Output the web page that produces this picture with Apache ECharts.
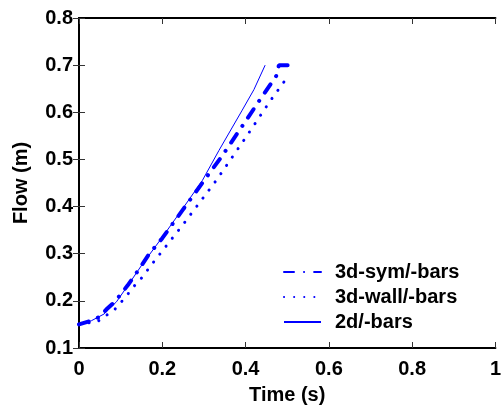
<!DOCTYPE html>
<html>
<head>
<meta charset="utf-8">
<script src="https://cdn.jsdelivr.net/npm/echarts@6/dist/echarts.min.js"></script>
<style>
  html, body { margin: 0; padding: 0; background: #fff; }
  #main { width: 504px; height: 410px; }
</style>
</head>
<body>
<div id="main"></div>
<script>
// 3d-sym/-bars (dash-dot)
const symTime = [0, 0.022, 0.05, 0.066, 0.086, 0.117, 0.137, 0.169, 0.2, 0.25, 0.296, 0.344, 0.39, 0.431, 0.475, 0.48, 0.512]
const symFlow = [0.15, 0.156, 0.166, 0.182, 0.198, 0.233, 0.258, 0.300, 0.333, 0.394, 0.45, 0.508, 0.568, 0.622, 0.679, 0.70, 0.70]
// 3d-wall/-bars (dotted)
const wallTime = [0, 0.046, 0.086, 0.102, 0.117, 0.133, 0.149, 0.177, 0.25, 0.33, 0.4, 0.459, 0.505]
const wallFlow = [0.15, 0.157, 0.182, 0.198, 0.214, 0.232, 0.247, 0.280, 0.362, 0.456, 0.546, 0.624, 0.68]
// 2d/-bars (solid)
const flatTime = [0, 0.03, 0.06, 0.09, 0.12, 0.15, 0.2, 0.25, 0.296, 0.336, 0.391, 0.42, 0.447]
const flatFlow = [0.15, 0.158, 0.172, 0.198, 0.236, 0.275, 0.335, 0.397, 0.455, 0.519, 0.603, 0.648, 0.70]

const seriesNames = ['3d-sym/-bars', '3d-wall/-bars', '2d/-bars']

const pairs = (xs, ys) => xs.map((x, i) => [x, ys[i]])

const font = 'Liberation Sans, Arial, sans-serif'
const blue = '#0000ff'

const tickStyle = { show: true, inside: true, length: 6, lineStyle: { color: '#333', width: 1 } }
const lineAxis = { show: true, lineStyle: { color: '#000', width: 2 } }
const labelStyle = { color: '#000', fontFamily: font, fontWeight: 'bold', fontSize: 20 }

let chart = echarts.init(document.getElementById('main'))
chart.setOption({
  animation: false,
  backgroundColor: '#fff',
  grid: { left: 79, right: 5, top: 18, bottom: 62 },
  legend: {
    orient: 'vertical',
    left: 278,
    top: 257,
    itemWidth: 37,
    itemHeight: 14,
    itemGap: 5,
    data: seriesNames,
    itemStyle: { opacity: 0 },
    textStyle: { color: '#000', fontFamily: font, fontWeight: 'bold', fontSize: 20, padding: [0, 0, 0, 9] }
  },
  xAxis: [
    {
      type: 'value', min: 0, max: 1, interval: 0.2,
      name: 'Time (s)', nameLocation: 'middle', nameGap: 37,
      nameTextStyle: { color: '#000', fontFamily: font, fontWeight: 'bold', fontSize: 20 },
      axisLine: lineAxis, axisTick: tickStyle, splitLine: { show: false },
      axisLabel: Object.assign({ margin: 11, formatter: v => String(+v.toFixed(1)) }, labelStyle)
    },
    {
      type: 'value', position: 'top', min: 0, max: 1, interval: 0.2,
      axisLine: lineAxis, axisTick: tickStyle, axisLabel: { show: false }, splitLine: { show: false }
    }
  ],
  yAxis: [
    {
      type: 'value', min: 0.1, max: 0.8, interval: 0.1,
      name: 'Flow (m)', nameLocation: 'middle', nameGap: 48,
      nameTextStyle: { color: '#000', fontFamily: font, fontWeight: 'bold', fontSize: 20 },
      axisLine: lineAxis, axisTick: tickStyle, splitLine: { show: false },
      axisLabel: Object.assign({ margin: 6, formatter: v => (+v).toFixed(1) }, labelStyle)
    },
    {
      type: 'value', position: 'right', min: 0.1, max: 0.8, interval: 0.1,
      axisLine: lineAxis, axisTick: tickStyle, axisLabel: { show: false }, splitLine: { show: false }
    }
  ],
  series: [
    {
      name: seriesNames[0], type: 'line', symbol: 'none', color: blue,
      lineStyle: { color: blue, width: 4, type: [10, 10, 0.1, 10], cap: 'round' },
      data: pairs(symTime, symFlow)
    },
    {
      name: seriesNames[1], type: 'line', symbol: 'none', color: blue,
      lineStyle: { color: blue, width: 3, type: [0.1, 10], cap: 'round' },
      data: pairs(wallTime, wallFlow)
    },
    {
      name: seriesNames[2], type: 'line', symbol: 'none', color: blue,
      lineStyle: { color: blue, width: 1 },
      data: pairs(flatTime, flatFlow)
    }
  ]
})
</script>
</body>
</html>
